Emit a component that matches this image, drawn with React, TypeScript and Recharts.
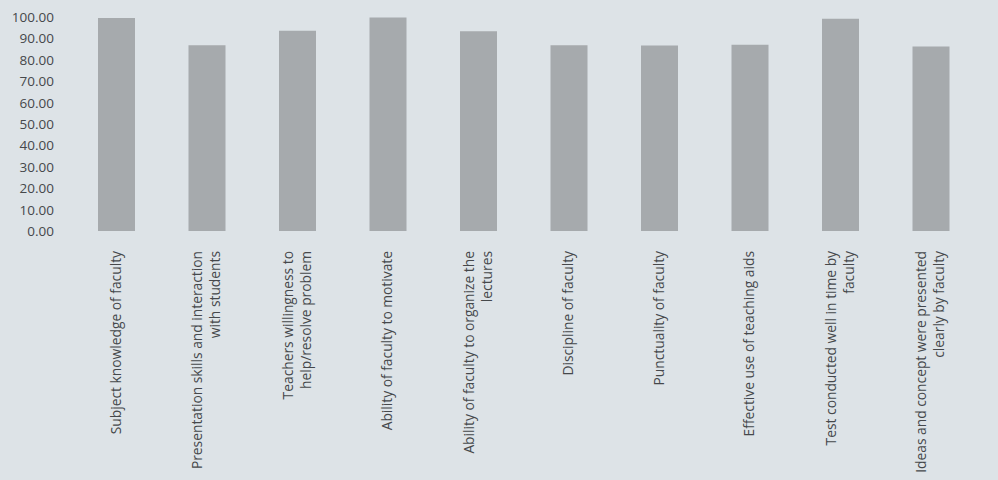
import React from 'react';
import { BarChart, Bar, XAxis, YAxis } from 'recharts';

const categories: string[] = [
  'Subject knowledge of faculty',
  'Presentation skills and interaction\nwith students',
  'Teachers willingness to\nhelp/resolve problem',
  'Ability of faculty to motivate',
  'Ability of faculty to organize the\nlectures',
  'Discipline of faculty',
  'Punctuality of faculty',
  'Effective use of teaching aids',
  'Test conducted well in time by\nfaculty',
  'Ideas and concept were presented\nclearly by faculty',
];

const scores: number[] = [99.5, 86.8, 93.6, 99.8, 93.3, 86.8, 86.7, 87.0, 99.2, 86.2];

const yTicks: number[] = [0, 10, 20, 30, 40, 50, 60, 70, 80, 90, 100];

const data = categories.map((c, i) => ({ name: c, value: scores[i] }));

const BG = '#dde3e7';
const BAR = '#a6aaad';
const TEXT = '#45484b';

const YTick = (props: any) => {
  const { x, y, payload } = props;
  return (
    <text x={x - 9} y={y} dy={5} textAnchor="end" fill={TEXT}
      fontFamily="'Open Sans', sans-serif" fontSize={13.5}>
      {Number(payload.value).toFixed(2)}
    </text>
  );
};

const XTick = (props: any) => {
  const { x, y, payload } = props;
  const lines = String(payload.value).split('\n');
  const lh = 18;
  return (
    <g transform={`translate(${x},${y + 12})`}>
      <text transform="rotate(-90)" textAnchor="end" fill={TEXT}
        fontFamily="'Open Sans', sans-serif" fontSize={13.8}>
        {lines.map((ln, i) => (
          <tspan key={i} x={0} y={(i - (lines.length - 1) / 2) * lh + 4.5}>{ln}</tspan>
        ))}
      </text>
    </g>
  );
};

export default function App() {
  return (
    <div style={{ position: 'fixed', left: 0, top: 0, width: 998, height: 480, background: BG, overflow: 'hidden' }}>
      <BarChart width={998} height={480} data={data}
        margin={{ top: 17, right: 22, left: 0, bottom: 0 }}>
        <XAxis dataKey="name" interval={0} axisLine={false} tickLine={false}
          height={249} tick={<XTick />} />
        <YAxis domain={[0, 100]} ticks={yTicks} interval={0} axisLine={false}
          tickLine={false} width={71} tick={<YTick />} />
        <Bar dataKey="value" fill={BAR} barSize={37} isAnimationActive={false} />
      </BarChart>
    </div>
  );
}
